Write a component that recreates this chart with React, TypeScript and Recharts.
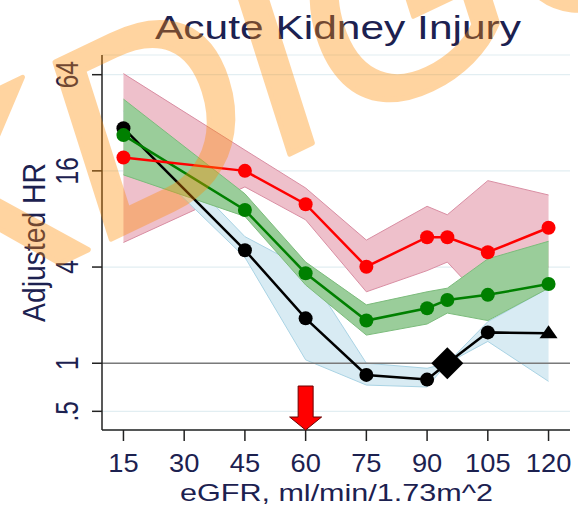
import React from "react";
import { Area, CartesianGrid, ComposedChart, Line, ReferenceDot, ReferenceLine, XAxis, YAxis } from "recharts";

// eGFR categories (ml/min/1.73m^2)
const egfr = [15, 45, 60, 75, 90, 95, 105, 120];

// black series (reference group), light blue band
const blackHR = [29.6, 5.1, 1.91, 0.845, 0.79, 1.0, 1.56, 1.54];
const blackLo = [25, 4.6, 1.05, 0.73, 0.71, 1.0, 1.37, 0.77];
const blackHi = [38, 6.2, 3.9, 1.0, 0.93, 1.0, 1.82, 2.95];

// green series
const greenHR = [26.8, 9.1, 3.66, 1.85, 2.21, 2.49, 2.68, 3.13];
const greenLo = [15.1, 8.3, 3.09, 1.5, 1.76, 2.06, 1.85, 2.95];
const greenHi = [45, 11.5, 4.3, 2.32, 2.8, 2.95, 4.5, 5.8];

// red series
const redHR = [19.4, 16.0, 9.9, 4.02, 6.15, 6.15, 4.95, 7.05];
const redLo = [5.7, 12.7, 7.9, 2.8, 3.8, 4.3, 2.3, 4.0];
const redHi = [65, 21.6, 12.5, 5.9, 9.6, 8.5, 13.9, 11.3];

const xTicks = [15, 30, 45, 60, 75, 90, 105, 120];
const yTicks = [0.5, 1, 4, 16, 64];
const yTickLabels = [".5", "1", "4", "16", "64"];

const arrowAt = 60;
const refEgfr = 95;
const lastEgfr = 120;

const rows = egfr.map((e, i) => ({
  egfr: e,
  black: blackHR[i],
  blackBand: [blackLo[i], blackHi[i]],
  green: greenHR[i],
  greenBand: [greenLo[i], greenHi[i]],
  red: redHR[i],
  redBand: [redLo[i], redHi[i]],
}));

const FONT = "'Liberation Sans', Arial, sans-serif";
const TEXT = "#1c2150";
const Y_MIN = 0.382;

const XTick = ({ x, payload }: any) => (
  <text transform={`translate(${x},471.5) scale(1.07,1)`} textAnchor="middle" fontSize={25.5} fill={TEXT} fontFamily={FONT}>
    {payload.value}
  </text>
);

const YTick = ({ y, payload }: any) => (
  <text transform={`translate(78,${y}) scale(1.3,1) rotate(-90)`} textAnchor="middle" fontSize={24.5} fill={TEXT} fontFamily={FONT}>
    {yTickLabels[yTicks.indexOf(payload.value)] ?? payload.value}
  </text>
);

const BlackDot = (props: any) => {
  const { cx, cy, payload, index } = props;
  if (cx == null || cy == null) return null;
  if (payload.egfr === refEgfr)
    return <polygon key={index} points={`${cx},${cy - 16} ${cx + 16},${cy} ${cx},${cy + 16} ${cx - 16},${cy}`} fill="#000" />;
  if (payload.egfr === lastEgfr)
    return <polygon key={index} points={`${cx},${cy - 8} ${cx + 9},${cy + 5} ${cx - 9},${cy + 5}`} fill="#000" />;
  return <circle key={index} cx={cx} cy={cy} r={7} fill="#000" />;
};

const Arrow = ({ cx, cy }: any) => {
  if (cx == null || cy == null) return <g />;
  const pts = [
    [cx - 7.5, cy - 44],
    [cx + 7.5, cy - 44],
    [cx + 7.5, cy - 13],
    [cx + 16, cy - 13],
    [cx, cy],
    [cx - 16, cy - 13],
    [cx - 7.5, cy - 13],
  ]
    .map((p) => p.join(","))
    .join(" ");
  return <polygon points={pts} fill="#ff0000" stroke="#6b0000" strokeWidth={1} />;
};

export default function App() {
  return (
    <div style={{ position: "absolute", left: 0, top: 0, width: 578, height: 507, background: "#fff" }}>
      <ComposedChart width={578} height={507} data={rows} margin={{ top: 55, right: 8, bottom: 0, left: 42 }}>
        <CartesianGrid vertical={false} stroke="#e2eef2" strokeWidth={1.2} />
        <XAxis
          dataKey="egfr"
          type="number"
          domain={[9.7, 125.3]}
          ticks={xTicks}
          tick={XTick}
          tickSize={11}
          height={77}
          stroke="#222"
          strokeWidth={1.5}
          allowDataOverflow
        />
        <YAxis
          type="number"
          scale="log"
          domain={[Y_MIN, 85]}
          ticks={yTicks}
          tick={YTick}
          tickSize={10}
          width={60}
          stroke="#222"
          strokeWidth={1.5}
          allowDataOverflow
        />
        <ReferenceLine y={1} stroke="#7a7a7a" strokeWidth={1.5} />
        <Area dataKey="redBand" type="linear" fill="#eec0cb" fillOpacity={1} stroke="#d98ea3" strokeWidth={1} isAnimationActive={false} />
        <Area dataKey="blackBand" type="linear" fill="#d8ebf3" fillOpacity={1} stroke="#a9d3e4" strokeWidth={1} isAnimationActive={false} />
        <Area dataKey="greenBand" type="linear" fill="#9acd9a" fillOpacity={1} stroke="#7cbc7c" strokeWidth={1} isAnimationActive={false} />
        <Line dataKey="black" type="linear" stroke="#000" strokeWidth={2.5} dot={BlackDot} isAnimationActive={false} />
        <Line dataKey="green" type="linear" stroke="#008000" strokeWidth={2.5} dot={{ r: 7, fill: "#008000", stroke: "none" }} isAnimationActive={false} />
        <Line dataKey="red" type="linear" stroke="#ff0000" strokeWidth={2.5} dot={{ r: 7, fill: "#ff0000", stroke: "none" }} isAnimationActive={false} />
        <ReferenceDot x={arrowAt} y={Y_MIN} shape={Arrow} ifOverflow="visible" />
      </ComposedChart>
      <svg width={578} height={507} style={{ position: "absolute", left: 0, top: 0, pointerEvents: "none" }}>
        <text x={155} y={38.5} fontSize={34} textLength={366} lengthAdjust="spacingAndGlyphs" fill={TEXT} fontFamily={FONT}>
          Acute Kidney Injury
        </text>
        <text transform="translate(45,242.5) rotate(-90)" textAnchor="middle" fontSize={31} textLength={159} lengthAdjust="spacingAndGlyphs" fill={TEXT} fontFamily={FONT}>
          Adjusted HR
        </text>
        <text x={180} y={500.7} fontSize={24} textLength={313} lengthAdjust="spacingAndGlyphs" fill={TEXT} fontFamily={FONT}>
          eGFR, ml/min/1.73m^2
        </text>
        {/* watermark */}
        <g opacity={0.37}>
          <text
            transform="matrix(0.903,-0.43,0.303,0.953,-71.5,326)"
            fontSize={270}
            fill="rgb(255,140,0)"
            stroke="rgb(255,140,0)"
            strokeWidth={5}
            strokeLinejoin="round"
            fontFamily={FONT}
          >
            KDIGO
          </text>
        </g>
      </svg>
    </div>
  );
}
